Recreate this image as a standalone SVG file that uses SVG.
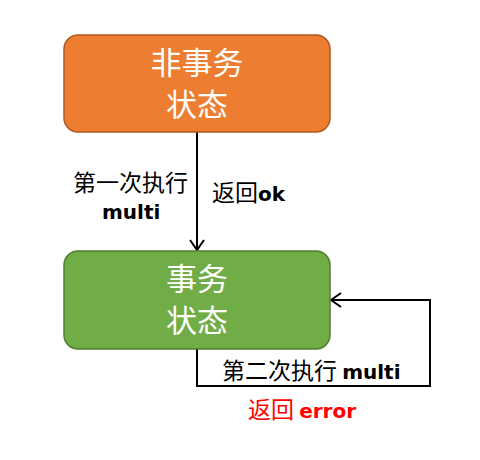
<svg xmlns="http://www.w3.org/2000/svg" width="480" height="460" viewBox="0 0 480 460">
<defs>
<style>
.box-o{fill:#ED7D31;stroke:#AE5A21;stroke-width:1.5}
.box-g{fill:#70AD47;stroke:#507E32;stroke-width:1.5}
.nt{font-family:"Noto Sans CJK SC",sans-serif;font-size:31px;fill:#fff;text-anchor:middle}
.lb{font-family:"Noto Sans CJK SC",sans-serif;font-size:23px;fill:#000}
.en{font-family:"DejaVu Sans",sans-serif;font-weight:bold;font-size:20px}
.red{fill:#ff0000}
.ln{fill:none;stroke:#000;stroke-width:2}
</style>
<marker id="arr" viewBox="0 0 12 16" refX="11" refY="8" markerWidth="12" markerHeight="16" markerUnits="userSpaceOnUse" orient="auto">
<path d="M1,1 L11,8 L1,15" fill="none" stroke="#000" stroke-width="2"/>
</marker>
</defs>
<rect width="480" height="460" fill="#fff"/>
<g id="connectors">
<line class="ln" x1="197" y1="132" x2="197" y2="250" marker-end="url(#arr)"/>
<polyline class="ln" points="197,349 197,386 430,386 430,300 331,300" marker-end="url(#arr)"/>
<text class="lb" x="73" y="191">第一次执行</text>
<text class="lb en" x="102" y="219">multi</text>
<text class="lb" x="212" y="201">返回<tspan class="en">ok</tspan></text>
<text class="lb" x="222" y="379">第二次执行 <tspan class="en">multi</tspan></text>
<text class="lb red" x="248" y="418">返回 <tspan class="en">error</tspan></text>
</g>
<g id="node-non-tx">
<rect class="box-o" x="64" y="35" width="266" height="97" rx="14"/>
<text class="nt" x="197" y="74">非事务</text>
<text class="nt" x="197" y="116">状态</text>
</g>
<g id="node-tx">
<rect class="box-g" x="64" y="251" width="266" height="98" rx="14"/>
<text class="nt" x="197" y="290">事务</text>
<text class="nt" x="197" y="332">状态</text>
</g>
</svg>
